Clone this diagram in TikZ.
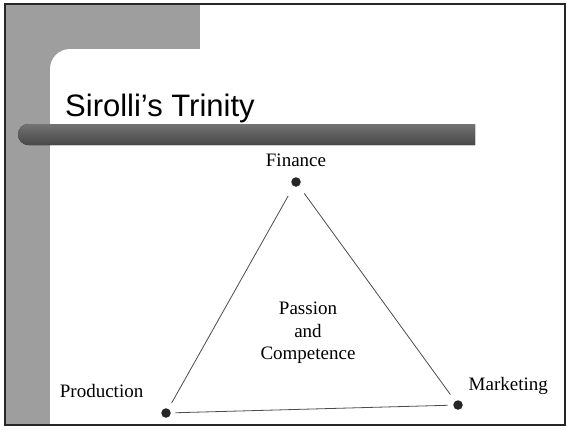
\documentclass[tikz,border=0pt]{standalone}
\usepackage{fontspec}
\setmainfont{Liberation Serif}
\newfontfamily\titlefont{Liberation Sans}
\usetikzlibrary{positioning}

\begin{document}
\begin{tikzpicture}[
    x=1pt, y=-1pt,
    every node/.style={font=\fontsize{19}{22.6}\selectfont},
    vertex/.style={circle, fill=black!85, inner sep=0pt, minimum size=9.5pt},
    tag/.style={inner sep=2pt},
    side/.style={draw=black!70, line width=0.8pt},
    panel/.style={fill=black!38},
    bar/.style={top color=black!55, bottom color=black!72}
]
\useasboundingbox (0,0) rectangle (569,429);
\fill[panel] (5,4) rectangle (565,425);
\fill[white] (565,4) -- (200,4) -- (200,49) -- (70,49) .. controls (59,49) and (50,58) .. (50,69) -- (50,425) -- (565,425) -- cycle;
\draw[line width=1.8pt, black!85] (5,4) rectangle (565,425);
\fill[bar] (475,124) -- (28.5,124) .. controls (22.7,124) and (18,128.7) .. (18,134.5) .. controls (18,140.3) and (22.7,145) .. (28.5,145) -- (475,145) -- cycle;
\node[anchor=base west, inner sep=0pt, font=\titlefont\fontsize{31}{37}\selectfont] (title) at (65,116) {Sirolli’s Trinity};
\node[vertex] (fin) at (296,182) {};
\node[vertex] (prod) at (166,413) {};
\node[vertex] (mkt) at (458,405) {};
\node[tag, above=8pt of fin] (finlbl) {Finance};
\node[tag, above left=10pt and 17pt of prod] (prodlbl) {Production};
\node[tag, above right=5pt and 5pt of mkt] (mktlbl) {Marketing};
\node[align=center] (core) at (308,333) {Passion\\and\\Competence};
\draw[side, shorten <=11pt, shorten >=6.5pt] (fin) -- (prod);
\draw[side, shorten <=9pt, shorten >=8pt] (fin) -- (mkt);
\draw[side, shorten <=4.5pt, shorten >=5.5pt] (prod) -- (mkt);
\end{tikzpicture}
\end{document}
